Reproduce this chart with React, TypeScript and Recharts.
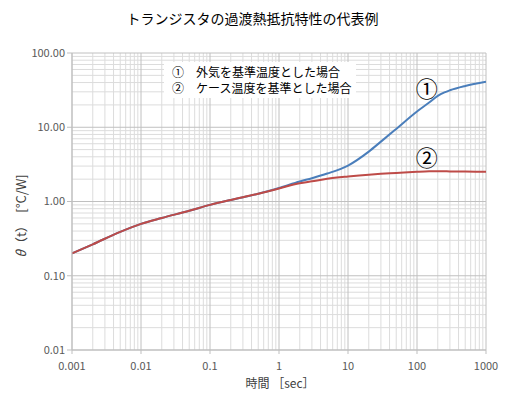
import {
  LineChart,
  Line,
  XAxis,
  YAxis,
  ReferenceLine,
  ReferenceDot,
} from 'recharts';

const times = [
  0.001, 0.002, 0.005, 0.01, 0.02, 0.05, 0.1, 0.2, 0.5, 1, 2, 3, 5, 10, 20, 30, 50,
  100, 150, 200, 250, 300, 500, 1000,
];
const ambientValues = [
  0.2, 0.265, 0.39, 0.5, 0.6, 0.75, 0.9, 1.05, 1.27, 1.52, 1.86, 2.06, 2.38, 3.05,
  4.7, 6.4, 9.5, 16.3, 21.5, 26.5, 29.5, 31.5, 36, 41,
];
const caseValues = [
  0.2, 0.265, 0.39, 0.5, 0.6, 0.75, 0.9, 1.05, 1.27, 1.5, 1.76, 1.87, 2.02, 2.17,
  2.3, 2.36, 2.42, 2.51, 2.55, 2.56, 2.55, 2.54, 2.53, 2.52,
];
const xTicks = [0.001, 0.01, 0.1, 1, 10, 100, 1000];
const yTicks = [0.01, 0.1, 1, 10, 100];
const seriesNames = ['①　外気を基準温度とした場合', '②　ケース温度を基準とした場合'];

const data = times.map((t, i) => ({
  t,
  ambient: ambientValues[i],
  case: caseValues[i],
}));

// minor grid lines 2..9 in every decade
const minorLines = (from: number, to: number) => {
  const out: number[] = [];
  for (let d = from; d < to; d *= 10) {
    for (let k = 2; k <= 9; k++) out.push(+(d * k).toPrecision(3));
  }
  return out;
};

const font = '"Noto Sans CJK JP", sans-serif';

export default function App() {
  return (
    <div
      style={{
        position: 'absolute',
        left: 0,
        top: 0,
        width: 505,
        height: 397,
        background: '#fff',
        fontFamily: font,
      }}
    >
      <div
        style={{
          position: 'absolute',
          top: 8,
          width: 505,
          textAlign: 'center',
          fontSize: 14,
          color: '#000',
        }}
      >
        トランジスタの過渡熱抵抗特性の代表例
      </div>
      <div
        style={{
          position: 'absolute',
          left: 20,
          top: 216,
          transform: 'translate(-50%, -50%) rotate(-90deg)',
          fontSize: 13,
          color: '#404040',
          whiteSpace: 'nowrap',
        }}
      >
        <i>θ</i>（t）　[°C/W]
      </div>
      <div
        style={{
          position: 'absolute',
          left: 0,
          width: 560,
          top: 374,
          textAlign: 'center',
          fontSize: 12,
          color: '#404040',
        }}
      >
        時間 ［sec］
      </div>
      <LineChart
        width={505}
        height={397}
        data={data}
        margin={{ top: 53, right: 19, bottom: 20, left: 2 }}
      >
        {minorLines(0.001, 1000).map((v) => (
          <ReferenceLine key={'vx' + v} x={v} stroke="#dcdcdc" strokeWidth={1} />
        ))}
        {minorLines(0.01, 100).map((v) => (
          <ReferenceLine key={'hy' + v} y={v} stroke="#dcdcdc" strokeWidth={1} />
        ))}
        {xTicks.map((v) => (
          <ReferenceLine key={'VX' + v} x={v} stroke="#c0c0c0" strokeWidth={1} />
        ))}
        {yTicks.map((v) => (
          <ReferenceLine key={'HY' + v} y={v} stroke="#c0c0c0" strokeWidth={1} />
        ))}
        <XAxis
          dataKey="t"
          type="number"
          scale="log"
          domain={[0.001, 1000]}
          ticks={xTicks}
          allowDataOverflow
          tickFormatter={(v) => String(v)}
          tick={{ fontSize: 11, fill: '#595959' }}
          stroke="#bfbfbf"
          tickSize={4}
          tickMargin={8}
          height={27}
        />
        <YAxis
          type="number"
          scale="log"
          domain={[0.01, 100]}
          ticks={yTicks}
          allowDataOverflow
          tickFormatter={(v) => Number(v).toFixed(2)}
          tick={{ fontSize: 11, fill: '#595959' }}
          stroke="#bfbfbf"
          tickSize={5}
          width={70}
        />
        <Line
          dataKey="ambient"
          stroke="#4a7ebb"
          strokeWidth={2}
          dot={false}
          type="monotone"
          isAnimationActive={false}
        />
        <Line
          dataKey="case"
          stroke="#be4b48"
          strokeWidth={2}
          dot={false}
          type="monotone"
          isAnimationActive={false}
        />
        <ReferenceDot
          x={138}
          y={33}
          r={0}
          label={{ value: '①', fontSize: 22, fill: '#000', position: 'center' }}
        />
        <ReferenceDot
          x={138}
          y={3.8}
          r={0}
          label={{ value: '②', fontSize: 22, fill: '#000', position: 'center' }}
        />
      </LineChart>
      <div
        style={{
          position: 'absolute',
          left: 164,
          top: 62,
          width: 192,
          background: '#fff',
          padding: '2px 0 2px 8px',
          fontSize: 12,
          lineHeight: '16px',
          color: '#000',
          boxSizing: 'border-box',
        }}
      >
        {seriesNames.map((n) => (
          <div key={n}>{n}</div>
        ))}
      </div>
    </div>
  );
}
